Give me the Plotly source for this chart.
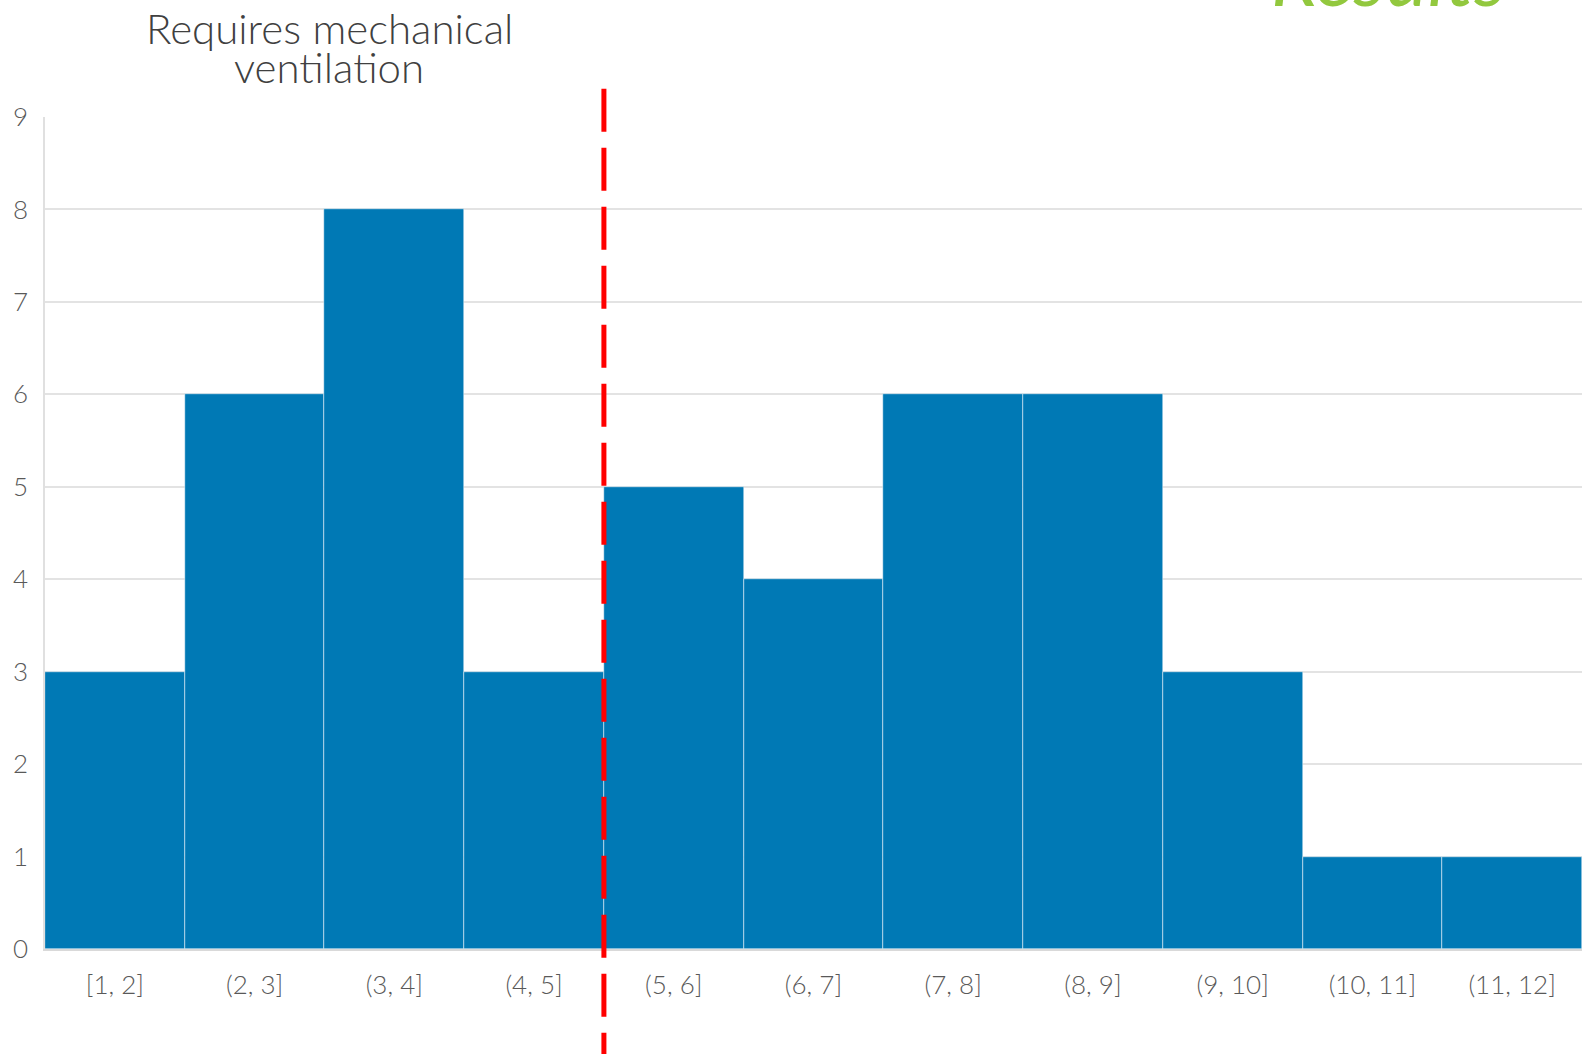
import plotly.graph_objects as go

# Histogram bins (days) and patient counts
bin_labels = ["[1, 2]", "(2, 3]", "(3, 4]", "(4, 5]", "(5, 6]", "(6, 7]",
              "(7, 8]", "(8, 9]", "(9, 10]", "(10, 11]", "(11, 12]"]
bin_left = [1, 2, 3, 4, 5, 6, 7, 8, 9, 10, 11]
counts = [3, 6, 8, 3, 5, 4, 6, 6, 3, 1, 1]
y_ticks = [0, 1, 2, 3, 4, 5, 6, 7, 8, 9]
threshold = 5

bin_mid = [b + 0.5 for b in bin_left]

FONT = "Lato, 'Open Sans', sans-serif"
GREY = "#595959"

fig = go.Figure()
fig.add_trace(go.Bar(
    x=bin_mid,
    y=counts,
    width=[1] * len(counts),
    marker=dict(color="#0079B5", line=dict(color="#FFFFFF", width=0.5)),
    hoverinfo="x+y",
))

# Vertical threshold marker (drawn top-down so the dash pattern starts at the top)
fig.add_shape(
    type="line", xref="x", yref="paper",
    x0=threshold, x1=threshold, y0=1.034, y1=-0.14,
    line=dict(color="#FF0000", width=5, dash="43px,16px"),
    layer="above",
)

fig.add_annotation(
    text="Requires mechanical",
    xref="paper", yref="paper", x=0.185, y=1.1075,
    xanchor="center", yanchor="middle", showarrow=False,
    font=dict(family=FONT, size=42, color="#404040", weight=300),
)
fig.add_annotation(
    text="ventilation",
    xref="paper", yref="paper", x=0.185, y=1.0595,
    xanchor="center", yanchor="middle", showarrow=False,
    font=dict(family=FONT, size=42, color="#404040", weight=300),
)

fig.add_annotation(
    text="<i>Results</i>",
    xref="paper", yref="paper", x=0.874, y=1.171,
    xanchor="center", yanchor="middle", showarrow=False,
    font=dict(family=FONT, size=80, color="#92C83E", weight=400),
)

fig.update_layout(
    width=1583, height=1054,
    margin=dict(l=45, r=1, t=117, b=105),
    paper_bgcolor="white", plot_bgcolor="white",
    bargap=0, showlegend=False,
    font=dict(family=FONT, color=GREY),
    xaxis=dict(
        range=[1, 12], tickmode="array", tickvals=bin_mid, ticktext=bin_labels,
        showgrid=False, zeroline=False, showline=True, linecolor="#D9D9D9",
        linewidth=2, ticks="", ticklabelstandoff=12,
        tickfont=dict(family=FONT, size=26, color=GREY, weight=300),
    ),
    yaxis=dict(
        range=[0, 9], tickmode="array", tickvals=y_ticks,
        showgrid=True, gridcolor="#E3E3E3", gridwidth=2,
        zeroline=False, showline=True, linecolor="#E0E0E0", linewidth=1.5,
        ticks="", ticklabelstandoff=10,
        tickfont=dict(family=FONT, size=26, color=GREY, weight=300),
    ),
)

fig.write_html("out.html")
